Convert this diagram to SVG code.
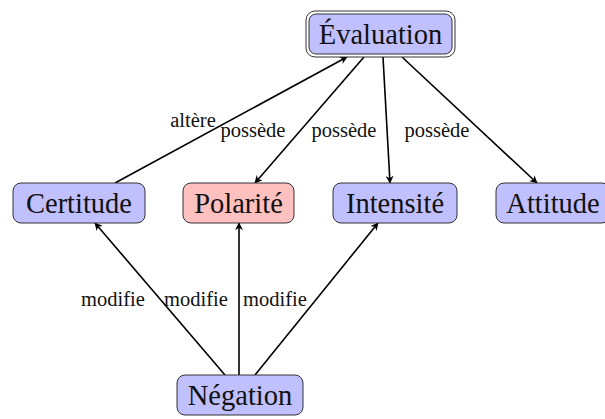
<svg xmlns="http://www.w3.org/2000/svg" width="605" height="419" viewBox="0 0 605 419">
<style>
.n{fill:#c0c0ff;stroke:#333;stroke-width:1}
.p{fill:#ffc0c0;stroke:#333;stroke-width:1}
.t{font-family:"Liberation Serif","DejaVu Serif",serif;font-size:28.5px;fill:#111;text-anchor:middle}
.l{font-family:"Liberation Serif","DejaVu Serif",serif;font-size:20.5px;fill:#111;text-anchor:middle}
.e{stroke:#000;stroke-width:1.6;fill:none;marker-end:url(#a)}
</style>
<defs>
<marker id="a" viewBox="0 0 10 10" refX="9" refY="5" markerWidth="8" markerHeight="8" orient="auto" markerUnits="userSpaceOnUse">
<path d="M0,0 L10,5 L0,10 L3,5 Z" fill="#000"/>
</marker>
</defs>
<rect width="605" height="419" fill="#fff"/>
<g id="connectors">
<line class="e" x1="115" y1="183" x2="347" y2="57"/>
<line class="e" x1="364" y1="57" x2="255" y2="183"/>
<line class="e" x1="383" y1="57" x2="390" y2="183"/>
<line class="e" x1="402" y1="57" x2="537" y2="183"/>
<line class="e" x1="225" y1="375" x2="95" y2="223"/>
<line class="e" x1="239" y1="375" x2="239" y2="223"/>
<line class="e" x1="255" y1="375" x2="378" y2="223"/>
<text class="l" x="193" y="127">altère</text>
<text class="l" x="253" y="137">possède</text>
<text class="l" x="344" y="137">possède</text>
<text class="l" x="437" y="137">possède</text>
<text class="l" x="113" y="306">modifie</text>
<text class="l" x="196" y="306">modifie</text>
<text class="l" x="275" y="306">modifie</text>
</g>
<g id="evaluation">
<rect x="306" y="11" width="149" height="46" rx="9" fill="#fff" stroke="#333" stroke-width="1"/>
<rect class="n" x="309" y="14" width="143" height="40" rx="7"/>
<text class="t" x="380.5" y="44">Évaluation</text>
</g>
<g id="certitude">
<rect class="n" x="13" y="183" width="132" height="40" rx="8"/>
<text class="t" x="79" y="213">Certitude</text>
</g>
<g id="polarite">
<rect class="p" x="183" y="183" width="111" height="40" rx="8"/>
<text class="t" x="238.5" y="213">Polarité</text>
</g>
<g id="intensite">
<rect class="n" x="333" y="183" width="124" height="40" rx="8"/>
<text class="t" x="395" y="213">Intensité</text>
</g>
<g id="attitude">
<rect class="n" x="496" y="183" width="114" height="40" rx="8"/>
<text class="t" x="553" y="213">Attitude</text>
</g>
<g id="negation">
<rect class="n" x="177" y="375" width="126" height="40" rx="8"/>
<text class="t" x="240" y="405">Négation</text>
</g>
</svg>
